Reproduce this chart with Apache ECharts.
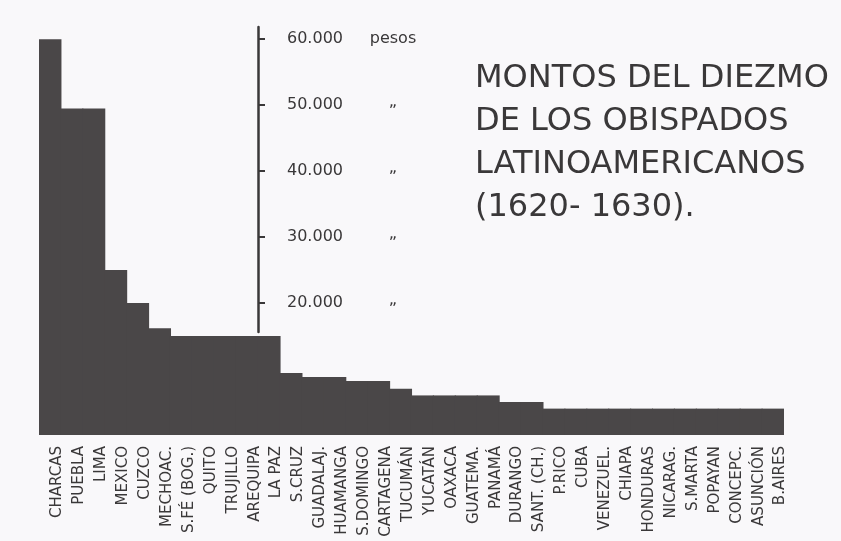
<!DOCTYPE html>
<html>
<head>
<meta charset="utf-8">
<script src="https://cdn.jsdelivr.net/npm/echarts@6/dist/echarts.min.js"></script>
<style>
  html, body { margin: 0; padding: 0; background: #f9f8fa; }
  #chart { width: 841px; height: 541px; }
</style>
</head>
<body>
<div id="chart"></div>
<script>
// obispados, en el orden del grafico
var obispados = ['CHARCAS', 'PUEBLA', 'LIMA', 'MEXICO', 'CUZCO', 'MECHOAC.', 'S.FÉ (BOG.)', 'QUITO',
    'TRUJILLO', 'AREQUIPA', 'LA PAZ', 'S.CRUZ', 'GUADALAJ.', 'HUAMANGA', 'S.DOMINGO', 'CARTAGENA',
    'TUCUMÁN', 'YUCATÁN', 'OAXACA', 'GUATEMA.', 'PANAMÁ', 'DURANGO', 'SANT. (CH.)', 'P.RICO', 'CUBA',
    'VENEZUEL.', 'CHIAPA', 'HONDURAS', 'NICARAG.', 'S.MARTA', 'POPAYAN', 'CONCEPC.', 'ASUNCIÓN', 'B.AIRES'];
// montos del diezmo (pesos)
var montos = [60000, 49500, 49500, 25000, 20000, 16200, 15000, 15000, 15000, 15000, 15000, 9400,
    8800, 8800, 8200, 8200, 7000, 6000, 6000, 6000, 6000, 5000, 5000,
    4000, 4000, 4000, 4000, 4000, 4000, 4000, 4000, 4000, 4000, 4000];
var escalaValores = [20000, 30000, 40000, 50000, 60000];
var escalaTextos = ['20.000', '30.000', '40.000', '50.000', '60.000'];
var escalaUnidad = ['„', '„', '„', '„', 'pesos'];
var titulo = ['MONTOS DEL DIEZMO', 'DE LOS OBISPADOS', 'LATINOAMERICANOS', '(1620- 1630).'];

var tinta = '#3a3839';
var fuente = 'DejaVu Sans';

var chart = echarts.init(document.getElementById('chart'));
var option = {
    backgroundColor: '#f9f8fa',
    animation: false,
    title: {
        text: titulo.join('\n'),
        left: 470,
        top: 52,
        textStyle: {
            fontFamily: fuente,
            fontSize: 32,
            fontWeight: 'normal',
            color: tinta,
            lineHeight: 43
        }
    },
    grid: [
        { left: 39, right: 57, top: 26, bottom: 106 },
        // solo para la escala dibujada en medio
        { left: 258, right: 583, top: 27, bottom: 209 }
    ],
    xAxis: [
        {
            type: 'category',
            gridIndex: 0,
            data: obispados,
            axisLine: { show: false },
            axisTick: { show: false },
            axisLabel: {
                interval: 0,
                rotate: 90,
                margin: 11,
                verticalAlign: 'top',
                fontFamily: fuente,
                fontSize: 15,
                color: tinta
            }
        },
        { type: 'value', gridIndex: 1, show: false }
    ],
    yAxis: [
        { type: 'value', gridIndex: 0, min: 0, max: 62000, show: false },
        {
            type: 'value',
            gridIndex: 1,
            position: 'right',
            min: 15600,
            max: 61850,
            splitLine: { show: false },
            axisLine: { show: true, lineStyle: { color: tinta, width: 2.5 } },
            axisTick: {
                show: true,
                length: 7,
                customValues: escalaValores,
                lineStyle: { color: tinta, width: 2 }
            },
            axisLabel: {
                customValues: escalaValores,
                margin: 29,
                formatter: function (v) {
                    var i = escalaValores.indexOf(v);
                    var estilo = escalaUnidad[i] === 'pesos' ? 'u' : 'd';
                    return '{n|' + escalaTextos[i] + '}{' + estilo + '|' + escalaUnidad[i] + '}';
                },
                rich: {
                    n: { width: 80, fontFamily: fuente, fontSize: 16, color: tinta },
                    u: { width: 52, align: 'center', fontFamily: fuente, fontSize: 16, color: tinta },
                    d: { width: 52, align: 'center', fontFamily: fuente, fontSize: 16, color: tinta, padding: [0, 0, 7, 0] }
                }
            }
        }
    ],
    series: [
        {
            type: 'bar',
            xAxisIndex: 0,
            yAxisIndex: 0,
            data: montos,
            barWidth: 23,
            itemStyle: { color: '#4a4748' }
        }
    ]
};
chart.setOption(option);
</script>
</body>
</html>
